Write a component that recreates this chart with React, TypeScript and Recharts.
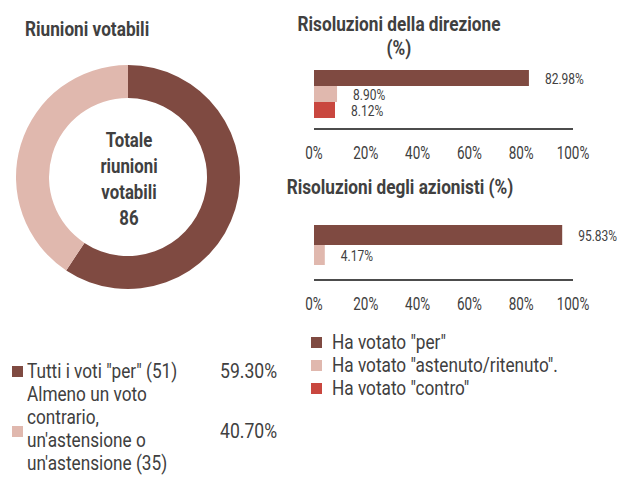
import React from 'react';
import { PieChart, Pie, Cell, BarChart, Bar, XAxis, YAxis, LabelList } from 'recharts';

const FONT = "Roboto, 'Liberation Sans', sans-serif";
const TEXT = '#404040';
const DARK = '#7f4a41';
const LIGHT = '#e0b8ae';
const RED = '#c9473f';

const meetingLabels = ['Tutti i voti "per" (51)', "Almeno un voto\ncontrario,\nun'astensione o\nun'astensione (35)"];
const meetingCounts = [51, 35];
const meetingPct = ['59.30%', '40.70%'];
const meetingColors = [DARK, LIGHT];
const centerLines = ['Totale', 'riunioni', 'votabili', '86'];

const voteSeries = ['per', 'astenuto', 'contro'];
const voteLabels = ['Ha votato "per"', 'Ha votato "astenuto/ritenuto".', 'Ha votato "contro"'];
const voteColors = [DARK, LIGHT, RED];

const boardValues = [82.98, 8.9, 8.12];
const shareholderValues = [95.83, 4.17];
const pctTicks = [0, 20, 40, 60, 80, 100];

const pieData = meetingLabels.map((name, i) => ({ name, value: meetingCounts[i] }));
const boardData = [Object.fromEntries([['name', 'direzione'], ...boardValues.map((v, i) => [voteSeries[i], v])])];
const shareData = [Object.fromEntries([['name', 'azionisti'], ...shareholderValues.map((v, i) => [voteSeries[i], v])])];

const fmt = (v: any) => Number(v).toFixed(2) + '%';

function SText({ x, y, s, anchor, size, children }: any) {
  return (
    <g transform={`translate(${x},${y}) scale(${s},1)`}>
      <text x={0} y={0} textAnchor={anchor} fontSize={size} fontFamily={FONT} fill={TEXT}>
        {children}
      </text>
    </g>
  );
}

const AxisTick = (props: any) => {
  const { x, y, payload } = props;
  return <SText x={x} y={y + 30} s={0.71} anchor="middle" size={19}>{payload.value + '%'}</SText>;
};

const ValueLabel = (props: any) => {
  const { x, y, width, height, value } = props;
  return <SText x={x + width + 16} y={y + height / 2 + 5.5} s={0.8} anchor="start" size={15}>{fmt(value)}</SText>;
};

function VoteBars({ data, values, barSize, margin, width, height }: any) {
  return (
    <BarChart width={width} height={height} data={data} layout="vertical" margin={margin} barGap={0}>
      <XAxis
        type="number"
        domain={[0, 100]}
        ticks={pctTicks}
        axisLine={{ stroke: '#111', strokeWidth: 1.6 }}
        tickLine={false}
        tickSize={0}
        tickMargin={0}
        tick={<AxisTick />}
        interval={0}
      />
      <YAxis type="category" dataKey="name" hide />
      {values.map((_: number, i: number) => (
        <Bar key={voteSeries[i]} dataKey={voteSeries[i]} fill={voteColors[i]} barSize={barSize} isAnimationActive={false}>
          <LabelList dataKey={voteSeries[i]} content={<ValueLabel />} />
        </Bar>
      ))}
    </BarChart>
  );
}

function HText({ left, top, s, children, style }: any) {
  return (
    <div style={{ position: 'absolute', left, top, transform: `scaleX(${s})`, transformOrigin: 'left top', whiteSpace: 'pre', ...style }}>
      {children}
    </div>
  );
}

function CText({ cx, top, s, w, children, style }: any) {
  return (
    <div style={{ position: 'absolute', left: cx - w / 2, top, width: w, textAlign: 'center', transform: `scaleX(${s})`, transformOrigin: 'center top', whiteSpace: 'pre', ...style }}>
      {children}
    </div>
  );
}

export default function App() {
  const box = (l: number, t: number, w: number, h: number, c: string) => (
    <div style={{ position: 'absolute', left: l, top: t, width: w, height: h, background: c }} />
  );
  const legend = { fontSize: 20, lineHeight: '23px' };
  const title = { fontSize: 20, fontWeight: 'bold', lineHeight: '24px' };
  return (
    <div style={{ position: 'fixed', left: 0, top: 0, width: 619, height: 481, background: '#fff', fontFamily: FONT, color: TEXT, overflow: 'hidden' }}>
      <HText left={25} top={17} s={0.86} style={title}>Riunioni votabili</HText>
      <div style={{ position: 'absolute', left: 0, top: 47 }}>
        <PieChart width={260} height={260} margin={{ top: 0, right: 0, bottom: 0, left: 0 }}>
          <Pie data={pieData} dataKey="value" cx={128} cy={130} innerRadius={79} outerRadius={112} startAngle={90} endAngle={-270} stroke="none" isAnimationActive={false}>
            {pieData.map((d, i) => (
              <Cell key={d.name} fill={meetingColors[i]} />
            ))}
          </Pie>
        </PieChart>
      </div>
      <CText cx={129} top={127} s={0.84} w={120} style={{ fontSize: 20, fontWeight: 'bold', lineHeight: '26px' }}>
        {centerLines.join('\n')}
      </CText>

      <CText cx={399} top={12} s={0.86} w={300} style={title}>
        {'Risoluzioni della direzione\n(%)'}
      </CText>
      <div style={{ position: 'absolute', left: 290, top: 40 }}>
        <VoteBars data={boardData} values={boardValues} barSize={16} width={329} height={130} margin={{ top: 19, right: 46, bottom: 11, left: 24 }} />
      </div>

      <CText cx={400} top={175} s={0.86} w={340} style={title}>
        Risoluzioni degli azionisti (%)
      </CText>
      <div style={{ position: 'absolute', left: 290, top: 200 }}>
        <VoteBars data={shareData} values={shareholderValues} barSize={20} width={329} height={115} margin={{ top: 9, right: 46, bottom: 5, left: 24 }} />
      </div>

      {box(12, 366, 11, 11, meetingColors[0])}
      <HText left={27} top={360} s={0.86} style={legend}>{meetingLabels[0]}</HText>
      <HText left={220} top={360} s={0.88} style={legend}>{meetingPct[0]}</HText>
      {box(12, 426, 11, 11, meetingColors[1])}
      <HText left={27} top={383} s={0.86} style={legend}>{meetingLabels[1]}</HText>
      <HText left={220} top={420} s={0.88} style={legend}>{meetingPct[1]}</HText>

      {voteLabels.map((l, i) => (
        <React.Fragment key={l}>
          {box(311, 337 + i * 23, 11, 11, voteColors[i])}
          <HText left={332} top={331 + i * 23} s={0.86} style={legend}>{l}</HText>
        </React.Fragment>
      ))}
    </div>
  );
}
